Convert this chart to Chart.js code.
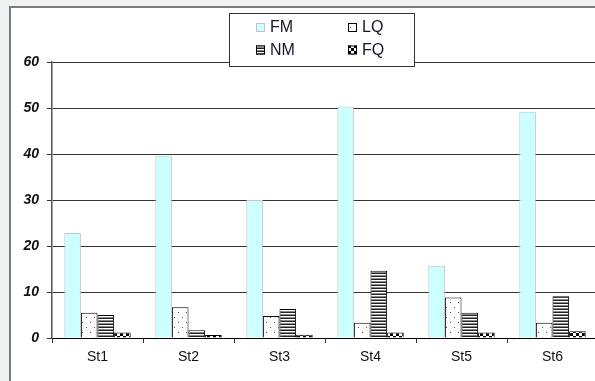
<!DOCTYPE html>
<html>
<head>
<meta charset="utf-8">
<script src="https://cdn.jsdelivr.net/npm/chart.js@4/dist/chart.umd.min.js"></script>
<style>
  html, body { margin: 0; padding: 0; width: 595px; height: 381px; overflow: hidden; background: #eff0f2; }
  #panel { position: absolute; left: 9px; top: 6px; width: 620px; height: 400px; background: #fff;
           border-left: 2px solid #7b7b7b; border-top: 2px solid #7b7b7b; }
  #wrap { position: absolute; left: 0; top: 0; width: 612px; height: 381px; }
</style>
</head>
<body>
<div id="panel"></div>
<div id="wrap"><canvas id="c" width="612" height="381"></canvas></div>
<script>
const stations = ['St1', 'St2', 'St3', 'St4', 'St5', 'St6'];
const seriesNames = ['FM', 'LQ', 'NM', 'FQ'];
const fmValues = [22.8, 39.6, 30.0, 50.3, 15.7, 49.2];
const lqValues = [5.5, 6.7, 4.8, 3.3, 8.8, 3.3];
const nmValues = [5.0, 1.7, 6.3, 14.6, 5.5, 9.1];
const fqValues = [1.2, 0.65, 0.7, 1.2, 1.2, 1.45];
const yTicks = [0, 10, 20, 30, 40, 50, 60];

// Fill patterns for the hatched series
function dotsPattern() {
  const c = document.createElement('canvas');
  c.width = 8; c.height = 10;
  const g = c.getContext('2d');
  g.fillStyle = '#fff'; g.fillRect(0, 0, 8, 10);
  g.fillStyle = '#555';
  g.fillRect(2, 2, 1, 1);
  g.fillRect(6, 7, 1, 1);
  return g.createPattern(c, 'repeat');
}
function stripePattern() {
  const c = document.createElement('canvas');
  c.width = 4; c.height = 3;
  const g = c.getContext('2d');
  g.fillStyle = '#222'; g.fillRect(0, 0, 4, 1);
  g.fillStyle = '#fff'; g.fillRect(0, 1, 4, 1);
  g.fillStyle = '#8a8a8a'; g.fillRect(0, 2, 4, 1);
  return g.createPattern(c, 'repeat');
}
function checkPattern() {
  const c = document.createElement('canvas');
  c.width = 6; c.height = 6;
  const g = c.getContext('2d');
  g.fillStyle = '#000'; g.fillRect(0, 0, 6, 6);
  g.fillStyle = '#fff'; g.fillRect(0, 0, 3, 3); g.fillRect(3, 3, 3, 3);
  return g.createPattern(c, 'repeat');
}

const fills = ['#ccffff', dotsPattern(), stripePattern(), checkPattern()];
const borders = ['#c4c4c4', '#000', '#000', '#000'];
const seriesValues = [fmValues, lqValues, nmValues, fqValues];

// Two-column boxed legend drawn over the top of the plot
const boxLegend = {
  id: 'boxLegend',
  afterDraw(chart) {
    const ctx = chart.ctx;
    const x0 = 229.5, y0 = 13.5, w = 185, h = 53;
    ctx.save();
    ctx.fillStyle = '#fff';
    ctx.fillRect(x0, y0, w, h);
    ctx.strokeStyle = '#333';
    ctx.lineWidth = 1;
    ctx.strokeRect(x0, y0, w, h);
    const colX = [256, 348];
    const rowY = [27.5, 50];
    ctx.font = '16px "Liberation Sans", Arial, sans-serif';
    ctx.textBaseline = 'middle';
    chart.data.datasets.forEach((ds, i) => {
      const mx = colX[i % 2], my = rowY[Math.floor(i / 2)];
      ctx.fillStyle = ds.backgroundColor;
      ctx.fillRect(mx, my - 4.5, 9, 9);
      ctx.strokeStyle = i === 0 ? '#c4c4c4' : '#000';
      ctx.strokeRect(mx + 0.5, my - 4, 8, 8);
      ctx.fillStyle = '#15152a';
      ctx.fillText(ds.label, mx + 14, my + 0.5);
    });
    ctx.restore();
  }
};

new Chart(document.getElementById('c'), {
  type: 'bar',
  data: {
    labels: stations,
    datasets: seriesNames.map((name, i) => ({
      label: name,
      data: seriesValues[i],
      backgroundColor: fills[i],
      borderColor: borders[i],
      borderWidth: 1,
      categoryPercentage: 0.73,
      barPercentage: 1.0
    }))
  },
  options: {
    responsive: false,
    animation: false,
    layout: { padding: { top: 62, right: 14, bottom: 0, left: 0 } },
    plugins: { legend: { display: false }, tooltip: { enabled: false } },
    scales: {
      x: {
        grid: { drawOnChartArea: false, drawTicks: true, tickLength: 5, color: '#333' },
        border: { display: true, color: '#000', width: 1 },
        ticks: { color: '#111', padding: 6, font: { family: '"Liberation Sans", Arial, sans-serif', size: 14 } },
        afterFit(s) { s.height = 43; }
      },
      y: {
        min: 0, max: 60,
        afterBuildTicks(s) { s.ticks = yTicks.map(v => ({ value: v })); },
        grid: { color: '#333', lineWidth: 1, tickLength: 5 },
        border: { display: true, color: '#555', width: 1.5 },
        ticks: { color: '#111', padding: 8,
                 font: { family: '"Liberation Sans", Arial, sans-serif', size: 14, weight: 'bold', style: 'italic' } },
        afterFit(s) { s.width = 52; }
      }
    }
  },
  plugins: [boxLegend]
});
</script>
</body>
</html>
